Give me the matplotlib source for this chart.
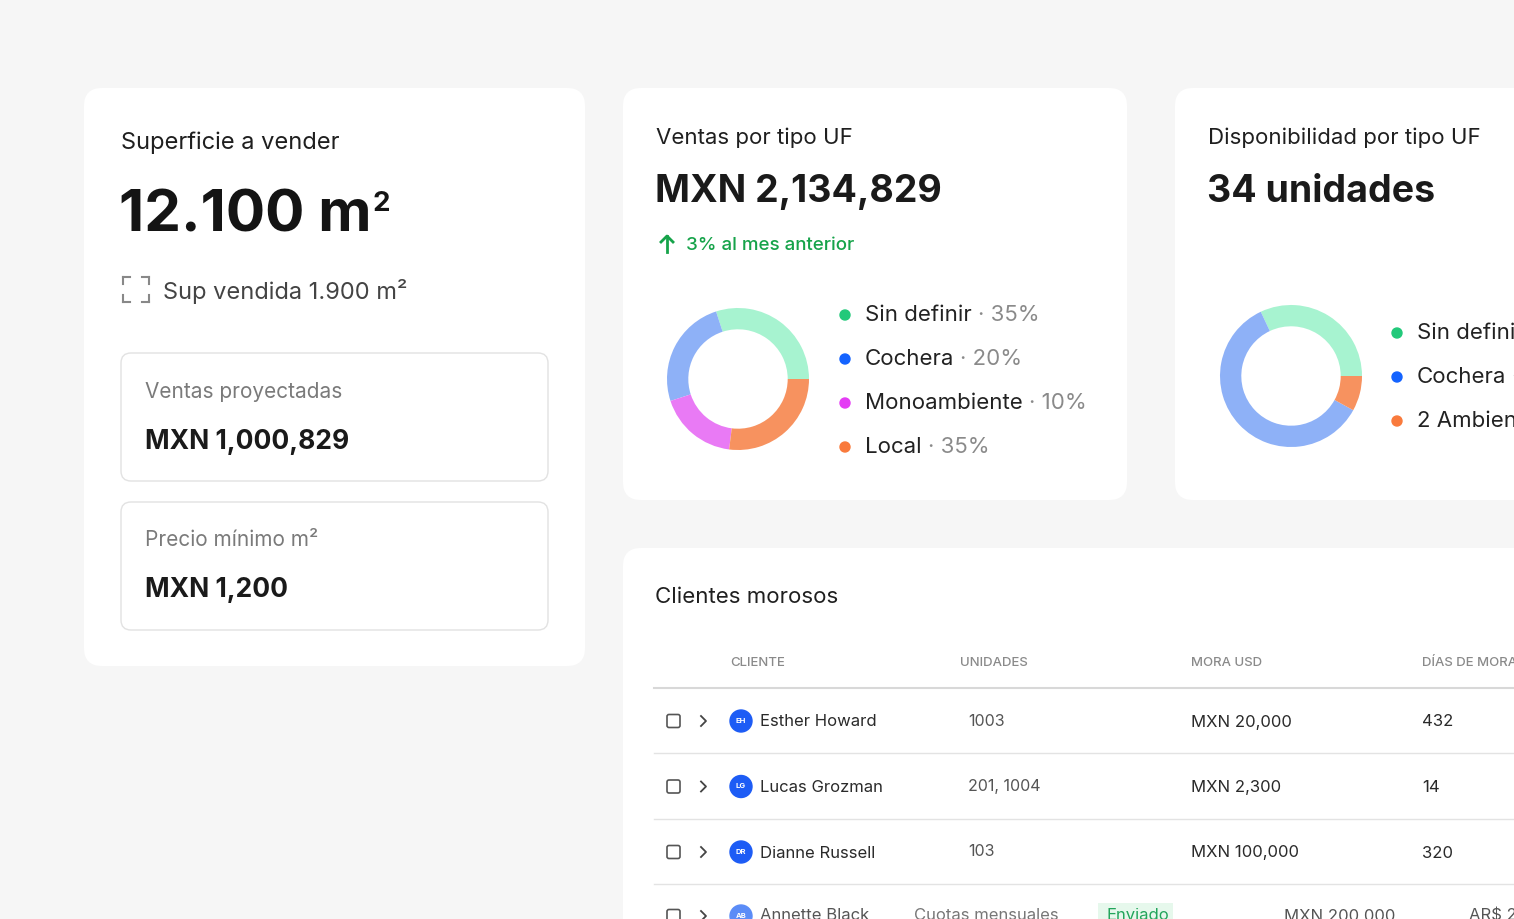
import matplotlib
matplotlib.use("Agg")
import matplotlib.pyplot as plt
from matplotlib.patches import FancyBboxPatch, Circle, Rectangle

plt.rcParams["font.family"] = "Inter"

# ---- data ----
venta_labels = ["Sin definir", "Cochera", "Monoambiente", "Local"]
venta_pcts = ["35%", "20%", "10%", "35%"]
venta_drawn = [30, 25, 18, 27]  # green, blue, magenta, orange (ccw from 3 o'clock)
disp_labels = ["Sin definir", "Cochera", "2 Ambientes"]
disp_pcts = ["32%", "60%", "8%"]
disp_drawn = [32, 60, 8]
ring_colors = ["#A7F3D0", "#8EB1F7", "#E97AF5", "#F7925F"]
dot_colors = ["#22C97A", "#1463FF", "#E43CF4", "#F97A3C"]
disp_ring = ["#A7F3D0", "#8EB1F7", "#F7925F"]
disp_dot = ["#22C97A", "#1463FF", "#F97A3C"]
clientes = ["Esther Howard", "Lucas Grozman", "Dianne Russell"]
iniciales = ["EH", "LG", "DR"]
unidades = ["1003", "201, 1004", "103"]
mora = ["MXN 20,000", "MXN 2,300", "MXN 100,000"]
dias = ["432", "14", "320"]
headers = ["CLIENTE", "UNIDADES", "MORA USD", "DÍAS DE MORA"]

W, H = 1514, 919
fig = plt.figure(figsize=(W/100, H/100), dpi=100)
fig.patch.set_facecolor("#F6F6F6")
ax = fig.add_axes([0, 0, 1, 1])
ax.set_xlim(0, W); ax.set_ylim(H, 0); ax.axis("off")
rend = fig.canvas.get_renderer()

def card(x0, y0, x1, y1, fc="white", ec="none", r=18, lw=1):
    ax.add_patch(FancyBboxPatch((x0, y0), x1-x0, y1-y0,
                 boxstyle=f"round,pad=0,rounding_size={r}", fc=fc, ec=ec, lw=lw))

def t(x, y, s, size, color="#1F1F1F", weight="normal", ha="left"):
    return ax.text(x, y, s, fontsize=size, color=color, fontweight=weight, ha=ha, va="center")

def after(txt, s, size, color, weight="normal", gap=3):
    bb = txt.get_window_extent(rend)
    x, y = txt.get_position()
    return t(bb.x1 + gap, y, s, size, color, weight)

card(84, 88, 585, 666)
card(623, 88, 1127, 500)
card(1175, 88, 1560, 500)
card(623, 548, 1560, 960)

# Card 1
t(121, 143, "Superficie a vender", 17)
m = t(119, 216, "12.100 m", 42, "#141414", "bold")
after(m, "2", 20, "#141414", "bold", gap=1).set_y(204)
for (cx, cy, dx, dy) in [(123, 277, 1, 1), (149, 277, -1, 1), (123, 302, 1, -1), (149, 302, -1, -1)]:
    ax.plot([cx, cx+dx*7], [cy, cy], color="#888", lw=1.5)
    ax.plot([cx, cx], [cy, cy+dy*7], color="#888", lw=1.5)
t(163, 291, "Sup vendida 1.900 m²", 17, "#444")
card(121, 353, 548, 481, ec="#E2E2E2", r=10)
card(121, 502, 548, 630, ec="#E2E2E2", r=10)
t(145, 392, "Ventas proyectadas", 15, "#7A7A7A")
t(145, 442, "MXN 1,000,829", 19, "#1A1A1A", "bold")
t(145, 540, "Precio mínimo m²", 15, "#7A7A7A")
t(145, 590, "MXN 1,200", 19, "#1A1A1A", "bold")

# Card 2
t(656, 138, "Ventas por tipo UF", 16)
t(655, 192, "MXN 2,134,829", 27, "#1A1A1A", "bold")
ax.plot([667, 667], [236, 252], color="#16A34A", lw=2)
ax.plot([661, 667, 673], [242, 236, 242], color="#16A34A", lw=2)
t(686, 245, "3% al mes anterior", 13.5, "#16A34A", "medium")

def donut(cx, cy, vals, cols):
    r = 71
    a = fig.add_axes([(cx-r)/W, 1-(cy+r)/H, 2*r/W, 2*r/H])
    a.pie(vals, colors=cols, startangle=0, counterclock=True, radius=1,
          wedgeprops=dict(width=0.3, edgecolor="none"))
    a.set_xlim(-1, 1); a.set_ylim(-1, 1)
    a.set_aspect("equal"); a.axis("off")

donut(738, 379, venta_drawn, ring_colors)
for i, (lab, p) in enumerate(zip(venta_labels, venta_pcts)):
    y = 315 + 44*i
    ax.add_patch(Circle((845, y), 5, color=dot_colors[i]))
    tx = t(865, y, lab, 16, "#222")
    after(tx, "· " + p, 16, "#8A8A8A", gap=6)

# Card 3
t(1208, 138, "Disponibilidad por tipo UF", 16)
t(1207, 192, "34 unidades", 27, "#1A1A1A", "bold")
donut(1291, 376, disp_drawn, disp_ring)
for i, lab in enumerate(disp_labels):
    y = 333 + 44*i
    ax.add_patch(Circle((1397, y), 5, color=disp_dot[i]))
    tx = t(1417, y, lab, 16, "#222")
    after(tx, "· " + disp_pcts[i], 16, "#8A8A8A", gap=6)

# Table
t(655, 597, "Clientes morosos", 16)
for x, h in zip([730, 960, 1191, 1422], headers):
    t(x, 663, h, 9.5, "#8A8A8A", "medium")
ax.plot([654, W], [688, 688], color="#D8D8D8", lw=1.5)
for i in range(3):
    y = 721 + 65.5*i
    ax.add_patch(FancyBboxPatch((667, y-6.5), 13, 13, boxstyle="round,pad=0,rounding_size=2",
                                fc="white", ec="#555", lw=1.2))
    ax.plot([701, 706, 701], [y-5, y, y+5], color="#444", lw=1.3)
    ax.add_patch(Circle((741, y), 11, color="#1D5CF5"))
    ax.text(741, y, iniciales[i], fontsize=5.5, color="white", ha="center", va="center", fontweight="bold")
    t(760, y+1, clientes[i], 12, "#2A2A2A")
    tg = t(968, y, unidades[i], 11.5, "#555")
    bb = tg.get_window_extent(rend)
    ax.add_patch(FancyBboxPatch((960, y-14), bb.x1 - 960 + 8, 29, boxstyle="round,pad=0,rounding_size=4",
                                fc="#EDEDED", ec="none", zorder=0.5))
    t(1191, y+1, mora[i], 12, "#2A2A2A")
    t(1422, y+1, dias[i], 12, "#2A2A2A")
    ax.plot([654, W], [y+32, y+32], color="#E3E3E3", lw=1)
y = 916
ax.add_patch(FancyBboxPatch((667, y-6.5), 13, 13, boxstyle="round,pad=0,rounding_size=2",
                            fc="white", ec="#555", lw=1.2))
ax.plot([701, 706, 701], [y-5, y, y+5], color="#444", lw=1.3)
ax.add_patch(Circle((741, y), 11, color="#5B8CF7"))
ax.text(741, y, "AB", fontsize=5.5, color="white", ha="center", va="center", fontweight="bold")
t(760, y, "Annette Black", 12, "#555")
t(914, y, "Cuotas mensuales", 12, "#777")
ax.add_patch(Rectangle((1098, 903), 75, 30, fc="#E6F8EC", ec="none"))
t(1106, y, "Enviado", 12, "#22A55B")
t(1284, y, "MXN 200,000", 12, "#555")
t(1469, y, "AR$ 2", 12, "#555")

fig.savefig("out.png", dpi=100, facecolor=fig.get_facecolor())
